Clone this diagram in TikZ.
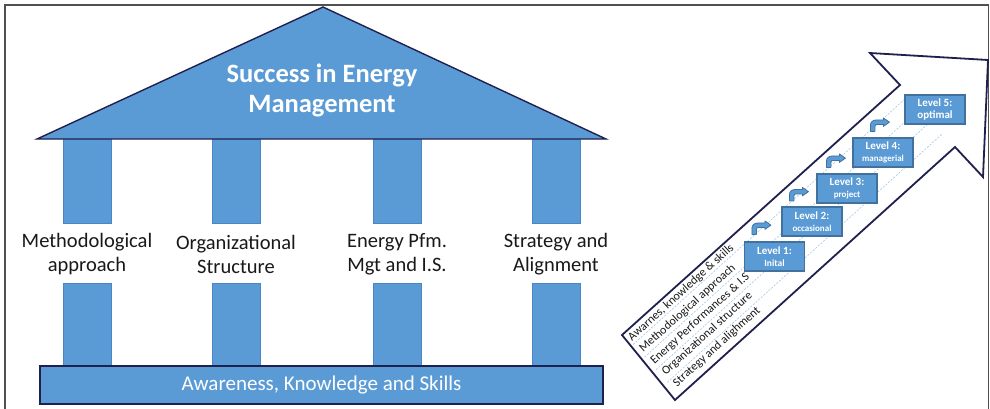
\documentclass[tikz,border=0pt]{standalone}
\usepackage{fontspec}
\setmainfont{Carlito}
\usetikzlibrary{calc}
\definecolor{officeblue}{HTML}{5B9BD5}
\definecolor{boxedge}{HTML}{41719C}
\definecolor{navy}{RGB}{32,32,78}
\definecolor{coledge}{HTML}{4A86C5}
\definecolor{dashblue}{HTML}{9DC3E6}
\definecolor{framegray}{RGB}{80,80,80}
\definecolor{labeltext}{RGB}{25,25,25}
\tikzset{
  pics/bentarrow/.style={code={
    \filldraw[fill=officeblue,draw=boxedge,line width=0.8pt,line join=round]
      (0,0) -- (0,-6) .. controls (0,-9.5) and (2.5,-11.5) .. (6.5,-11.5)
      -- (13,-11.5) -- (13,-13.5) -- (19,-9.25) -- (13,-5) -- (13,-7)
      -- (7,-7) .. controls (5.5,-7) and (4.5,-6.5) .. (4.5,-5) -- (4.5,0) -- cycle;
  }}
}
\begin{document}
\begin{tikzpicture}[x=1pt,y=-1pt,
  column/.style={fill=officeblue,draw=coledge,line width=0.8pt},
  pillarlabel/.style={font=\fontsize{20.5}{24}\selectfont,align=center,text=labeltext,inner sep=0pt},
  roofbox/.style={fill=officeblue,draw=navy,line width=1.4pt,line join=miter},
  basebox/.style={fill=officeblue,draw=navy,line width=1.8pt,minimum width=563pt,minimum height=38pt,inner sep=0pt,text=white,font=\fontsize{21}{24}\selectfont},
  rooftext/.style={text=white,align=center,font=\bfseries\fontsize{26.5}{30}\selectfont,inner sep=0pt},
  levelbox/.style={fill=officeblue,draw=boxedge,line width=1.2pt,minimum width=60pt,minimum height=29pt,inner sep=0pt,align=center,text=white,font=\bfseries\fontsize{11}{12}\selectfont},
  rowtext/.style={font=\fontsize{12}{14}\selectfont,text=labeltext,anchor=base west,rotate=42.1,inner sep=0pt},
  rowline/.style={draw=dashblue,line width=0.6pt,dash pattern=on 2pt off 1.5pt},
  bigarrow/.style={draw=navy,line width=1.8pt,line join=miter},
  frameline/.style={draw=framegray,line width=1.2pt}
]
\useasboundingbox (0,0) rectangle (990,408);
\fill[white] (0,0) rectangle (990,408);
\draw[frameline] (5,420) -- (5,5) -- (988.5,5) -- (988.5,420);

% ---------- house ----------
\foreach \xl in {63,212,373,532}{
  \filldraw[column] (\xl,135) rectangle ++(48,88);
  \filldraw[column] (\xl,283) rectangle ++(48,86);
}
\filldraw[roofbox] (37,139) -- (323,7) -- (606,139) -- cycle;
\node[rooftext] (roof) at (322,90) {Success in Energy\\Management};
\node[pillarlabel] (p1) at (87,254) {Methodological\\approach};
\node[pillarlabel] (p2) at (236,254) {Organizational\\Structure};
\node[pillarlabel] (p3) at (397,254) {Energy Pfm.\\Mgt and I.S.};
\node[pillarlabel] (p4) at (556,254) {Strategy and\\Alignment};
\node[basebox] (base) at (321.5,385) {Awareness, Knowledge and Skills};

% ---------- maturity arrow ----------
\draw[bigarrow] (675,400) -- (622,335) -- (900,85) -- (870,53) -- (988,60) -- (983,177) -- (955,147) -- cycle;
\begin{scope}[shift={(622,335)},rotate=42.1]
  \foreach \v in {14.5,31.5,48.5,65.5}{
    \draw[rowline] (2,\v) -- (372,\v);
  }
  \node[rowtext] (r1) at (3,11.5) {Awarnes, knowledge \& skills};
  \node[rowtext] (r2) at (3.7,27.5) {Methodological approach};
  \node[rowtext] (r3) at (4.4,43.5) {Energy Performances \& I.S};
  \node[rowtext] (r4) at (5.1,59.5) {Organizational structure};
  \node[rowtext] (r5) at (5.8,75.5) {Strategy and alighment};
\end{scope}

\node[levelbox] (L1) at (774.5,256.5) {Level 1:\\{\fontsize{9.5}{12}\selectfont Inital}};
\node[levelbox] (L2) at (812,221.5) {Level 2:\\{\fontsize{9}{12}\selectfont occasional}};
\node[levelbox] (L3) at (847,188.5) {Level 3:\\{\fontsize{9}{12}\selectfont project}};
\node[levelbox] (L4) at (883,152.5) {Level 4:\\{\fontsize{9}{12}\selectfont managerial}};
\node[levelbox] (L5) at (935,109.5) {Level 5:\\optimal};

\pic at ($(L1.north west)+(8,-7)$) {bentarrow};
\pic at ($(L2.north west)+(8,-5.5)$) {bentarrow};
\pic at ($(L3.north west)+(10,-6)$) {bentarrow};
\pic at ($(L4.north west)+(18,-6)$) {bentarrow};
\end{tikzpicture}
\end{document}
